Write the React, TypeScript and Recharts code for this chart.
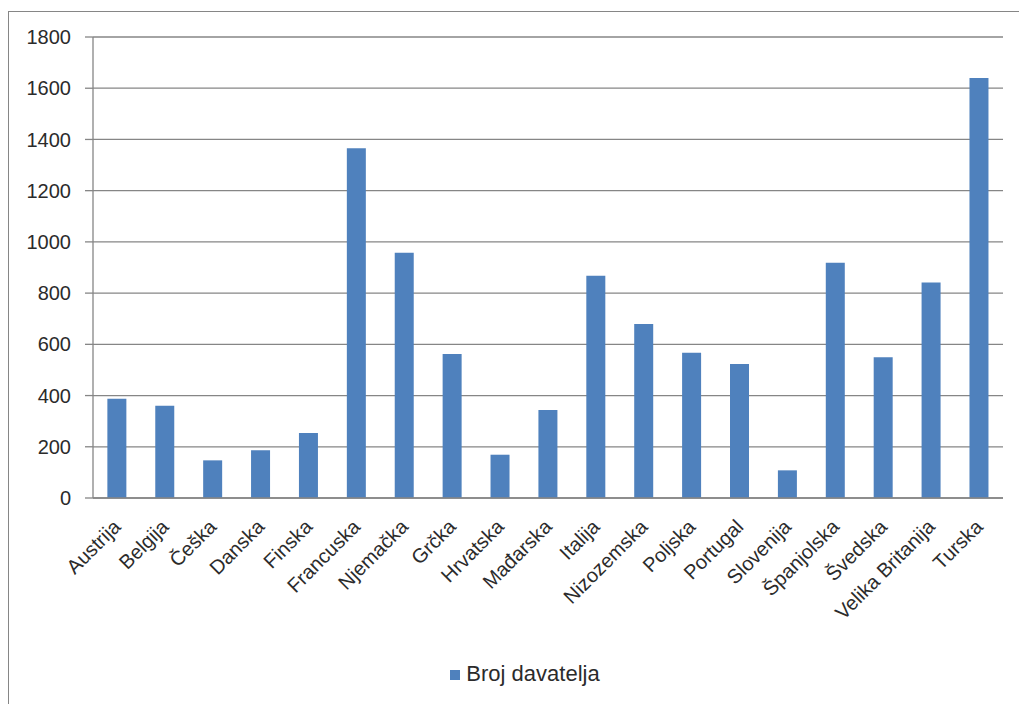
import React from 'react';
import { BarChart, Bar, XAxis, YAxis, CartesianGrid, Legend } from 'recharts';

const countries = [
  'Austrija', 'Belgija', 'Češka', 'Danska', 'Finska', 'Francuska', 'Njemačka', 'Grčka', 'Hrvatska', 'Mađarska',
  'Italija', 'Nizozemska', 'Poljska', 'Portugal', 'Slovenija', 'Španjolska', 'Švedska', 'Velika Britanija', 'Turska',
];
const donors = [388, 360, 147, 186, 254, 1366, 958, 562, 169, 344, 868, 679, 567, 523, 108, 919, 550, 841, 1640];
const yTicks = [0, 200, 400, 600, 800, 1000, 1200, 1400, 1600, 1800];
const seriesName = 'Broj davatelja';

const data = countries.map((name, i) => ({ name, value: donors[i] }));
// category boundaries, used only for the little tick marks between bars
const edges = Array.from({ length: countries.length + 1 }, (_, i) => i);

const FONT = '"Liberation Sans", Arial, sans-serif';
const GRID = '#868686';
const TEXT = '#2b2b2b';

const AngledTick = ({ x, y, payload }: any) => (
  <text
    x={x + 5}
    y={y + 29}
    transform={`rotate(-45 ${x + 5} ${y + 29})`}
    textAnchor="end"
    fontSize={20}
    fontFamily={FONT}
    fill={TEXT}
  >
    {payload.value}
  </text>
);

export default function App() {
  return (
    <div style={{ width: 1019, height: 704, paddingTop: 11, paddingLeft: 8, boxSizing: 'border-box', overflow: 'hidden', background: '#fff' }}>
      <style>{`body{margin:0}`}</style>
      <div style={{ borderLeft: `1px solid ${GRID}`, borderTop: `1px solid ${GRID}`, width: 1011, height: 693, boxSizing: 'border-box' }}>
        <BarChart
          width={1010}
          height={692}
          data={data}
          margin={{ top: 25, right: 16, left: 0, bottom: 17 }}
          barCategoryGap="30%"
        >
          <CartesianGrid horizontal vertical={false} stroke={GRID} strokeWidth={1.3} />
          <XAxis
            xAxisId="a"
            type="number"
            domain={[0, countries.length]}
            ticks={edges}
            allowDataOverflow
            tick={false}
            tickSize={6}
            height={1}
            stroke={GRID}
            strokeWidth={1.3}
          />
          <XAxis
            xAxisId="b"
            dataKey="name"
            interval={0}
            axisLine={false}
            tickLine={false}
            tickSize={0}
            tickMargin={0}
            height={162}
            tick={<AngledTick />}
          />
          <YAxis
            domain={[0, 1800]}
            ticks={yTicks}
            width={84}
            tickSize={8}
            tickMargin={14}
            stroke={GRID}
            strokeWidth={1.3}
            tick={{ fontSize: 20, fontFamily: FONT, fill: TEXT }}
          />
          <Legend
            verticalAlign="bottom"
            iconType="square"
            iconSize={10}
            wrapperStyle={{ fontSize: 22, fontFamily: FONT, left: 24 }}
            formatter={(v: string) => <span style={{ color: TEXT, marginLeft: 2 }}>{v}</span>}
          />
          <Bar xAxisId="b" dataKey="value" name={seriesName} fill="#4F81BD" isAnimationActive={false} />
        </BarChart>
      </div>
    </div>
  );
}
